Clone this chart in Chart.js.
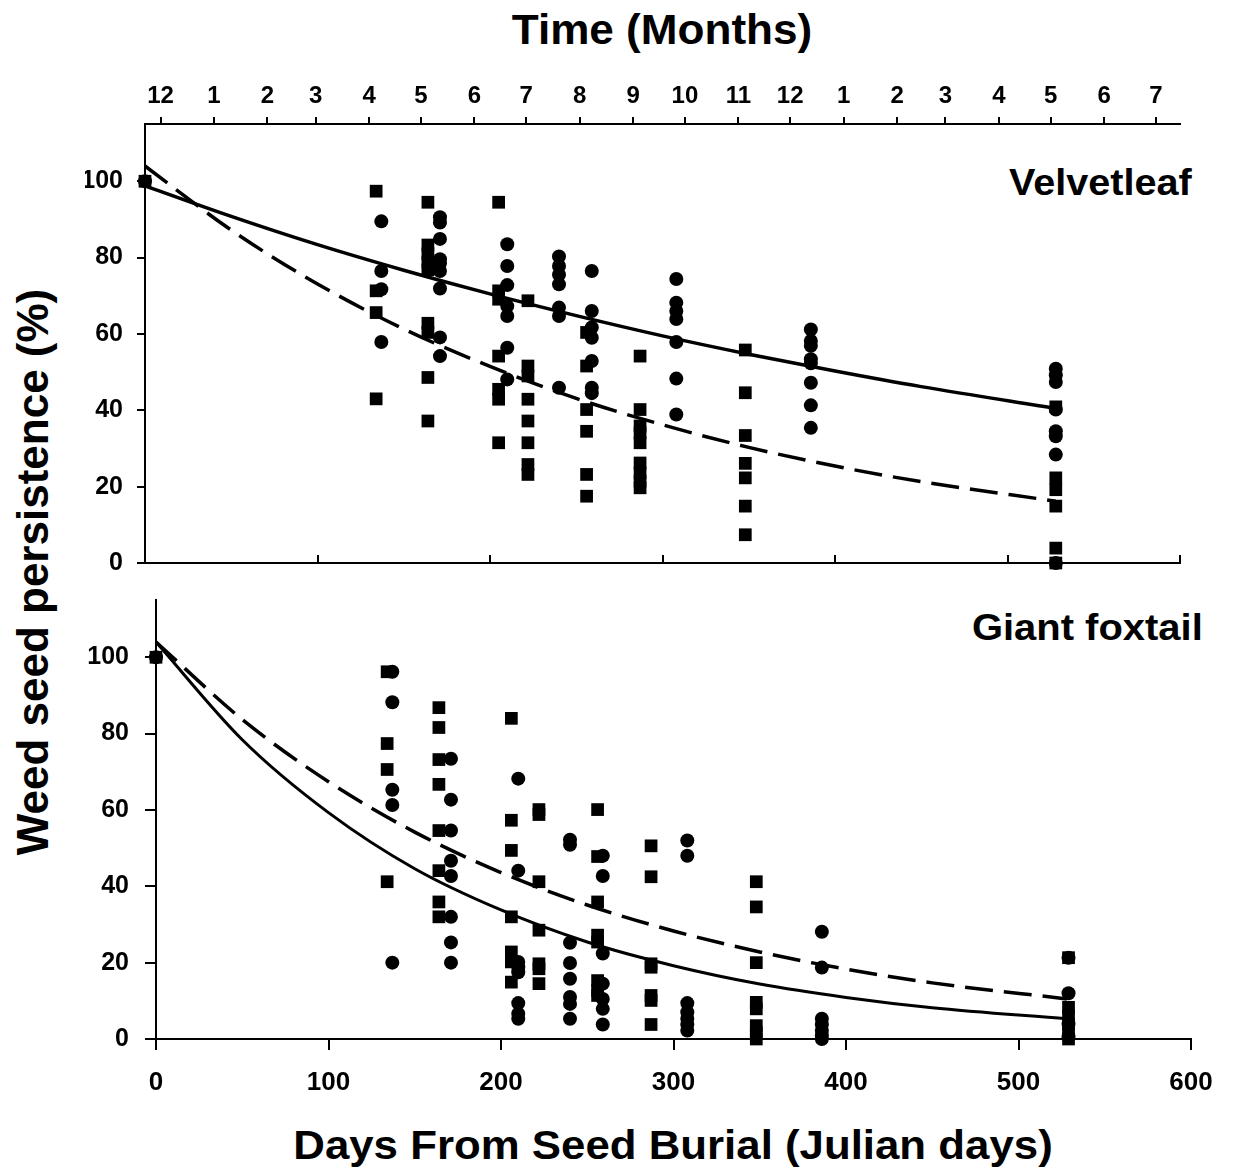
<!DOCTYPE html>
<html>
<head>
<meta charset="utf-8">
<script src="https://cdn.jsdelivr.net/npm/chart.js@4/dist/chart.umd.min.js"></script>
<style>
  body { margin: 0; background: #fff; width: 1234px; height: 1169px; position: relative; overflow: hidden; }
  canvas { position: absolute; left: 0; }
  .txt { position: absolute; font-family: "Liberation Sans", Arial, sans-serif; font-weight: bold; color: #000; line-height: 1; white-space: nowrap; }
</style>
</head>
<body>
<div class="txt" style="left:662px; top:9px; font-size:42px; transform:translateX(-50%) scaleX(1.05);">Time (Months)</div>
<div class="txt" style="left:-317px; top:550px; width:700px; text-align:center; font-size:44px; transform:rotate(-90deg);">Weed seed persistence (%)</div>
<div class="txt" style="right:42px; top:164px; font-size:37px; transform-origin:right; transform:scaleX(1.07);">Velvetleaf</div>
<div class="txt" style="right:31px; top:609px; font-size:37px; transform-origin:right; transform:scaleX(1.08);">Giant foxtail</div>
<div class="txt" style="left:673px; top:1125px; font-size:40px; transform:translateX(-50%) scaleX(1.095);">Days From Seed Burial (Julian days)</div>
<canvas id="top" width="1234" height="600" style="top:0"></canvas>
<canvas id="bottom" width="1234" height="609" style="top:560px"></canvas>
<script>
// Axes
const dayTicks = [0, 100, 200, 300, 400, 500, 600];
const percentTicks = [0, 20, 40, 60, 80, 100];
const monthDays = [9, 40, 71, 99, 130, 160, 191, 221, 252, 283, 313, 344, 374, 405, 436, 464, 495, 525, 556, 586];
const monthLabels = ['12', '1', '2', '3', '4', '5', '6', '7', '8', '9', '10', '11', '12', '1', '2', '3', '4', '5', '6', '7'];

// Velvetleaf - squares
const vlSquareDays = [0, 134, 164, 205, 222, 256, 287, 348, 528];
const vlSquareVals = [
  [100],
  [97.4, 71.3, 65.6, 43.0],
  [94.5, 83.3, 81.0, 78.8, 76.8, 62.8, 60.4, 48.6, 37.2],
  [94.5, 71.3, 69.1, 54.2, 45.5, 42.9, 31.5],
  [68.7, 51.6, 49.0, 42.9, 37.2, 31.5, 25.8, 23.2],
  [60.4, 51.6, 40.2, 34.5, 23.2, 17.5],
  [54.2, 40.2, 35.9, 34.1, 31.5, 26.2, 23.6, 21.4, 19.7],
  [55.8, 44.6, 33.4, 26.1, 22.3, 14.9, 7.4],
  [40.9, 22.3, 19.2, 14.9, 3.9, 0]
];
// Velvetleaf - circles
const vlCircleDays = [0, 137, 171, 210, 240, 259, 308, 386, 528];
const vlCircleVals = [
  [100],
  [89.5, 76.5, 71.7, 57.9],
  [90.6, 89.2, 84.9, 79.6, 78.5, 76.5, 71.9, 59.1, 54.2],
  [83.5, 77.8, 72.8, 67.3, 64.7, 56.4, 48.1],
  [80.3, 77.8, 75.5, 73.0, 66.9, 64.7, 45.9],
  [76.5, 66.0, 61.7, 59.0, 52.9, 45.9, 44.5],
  [74.4, 68.2, 66.0, 63.9, 57.9, 48.3, 38.9],
  [61.2, 58.2, 56.9, 53.4, 52.3, 47.2, 41.3, 35.4],
  [50.9, 49.2, 47.4, 40.2, 34.5, 33.2, 28.4, 0]
];

// Giant foxtail - squares
const gfSquareDays = [0, 134, 164, 206, 222, 256, 287, 348, 529];
const gfSquareVals = [
  [100],
  [96.2, 77.4, 70.6, 41.2],
  [86.8, 81.6, 73.2, 66.7, 54.6, 44.1, 35.9, 32.0],
  [84.0, 57.3, 49.4, 32.0, 22.8, 20.2, 14.9],
  [60.1, 58.8, 41.2, 28.5, 19.7, 18.4, 14.5],
  [60.1, 47.8, 35.9, 27.2, 25.4, 15.3, 12.7, 11.4],
  [50.6, 42.5, 19.7, 18.8, 11.4, 10.1, 3.8],
  [41.2, 34.6, 20.0, 9.6, 7.9, 3.5, 1.7, 0],
  [21.3, 8.3, 6.1, 3.9, 1.7, 0]
];
// Giant foxtail - circles
const gfCircleDays = [0, 137, 171, 210, 240, 259, 308, 386, 529];
const gfCircleVals = [
  [100],
  [96.2, 88.2, 65.3, 61.3, 20.0],
  [73.4, 62.7, 54.6, 46.7, 42.7, 32.0, 25.3, 20.0],
  [68.2, 44.1, 20.2, 18.8, 17.5, 9.4, 6.6, 5.3],
  [52.2, 50.9, 25.2, 19.9, 15.8, 11.0, 9.2, 5.3],
  [48.0, 42.7, 22.4, 14.5, 10.5, 7.9, 3.8],
  [52.0, 48.0, 9.4, 7.0, 5.3, 3.8, 2.2],
  [28.1, 18.7, 5.3, 3.8, 2.2, 0.9, 0],
  [21.3, 12.0, 4.0, 0.5]
];

// Fitted curves
const curveDays = [0, 50, 100, 150, 200, 250, 300, 350, 400, 450, 528];
const vlSolid = [98.8, 90.8, 83.4, 76.7, 70.5, 64.8, 59.5, 54.7, 50.3, 46.2, 40.5];
const vlDashed = [104.0, 87.2, 73.1, 61.3, 51.5, 43.1, 36.2, 30.3, 25.4, 21.3, 16.2];
const gfSolid = [104.0, 78.4, 59.3, 44.6, 33.8, 25.4, 19.2, 14.4, 10.9, 8.2, 5.3];
const gfDashed = [104.0, 83.7, 67.4, 54.2, 43.6, 35.1, 28.3, 22.8, 18.3, 14.7, 10.5];

const FONT = '"Liberation Sans", Arial, sans-serif';

function columns(days, vals) {
    return days.flatMap((d, i) => vals[i].map(v => ({ x: d, y: v })));
}
function curve(vals) {
    return curveDays.map((d, i) => ({ x: d, y: vals[i] }));
}

function markers(data, style) {
    return {
        data: data,
        pointStyle: style,
        pointRadius: style === 'rect' ? 9 : 7,
        pointBackgroundColor: '#000',
        pointBorderWidth: 0,
        showLine: false,
        clip: false
    };
}
function line(data, dashed, width) {
    return {
        data: data,
        showLine: true,
        pointRadius: 0,
        borderColor: '#000',
        borderWidth: width,
        borderDash: dashed ? [28, 11] : [],
        cubicInterpolationMode: 'monotone',
        clip: false
    };
}

function axisStyle(tickLength) {
    return {
        grid: { drawOnChartArea: false, drawTicks: true, tickLength: tickLength, color: '#000', lineWidth: 2 },
        border: { color: '#000', width: 2 }
    };
}

// Panel 1: Velvetleaf
new Chart(document.getElementById('top'), {
    type: 'scatter',
    data: {
        datasets: [
            line(curve(vlSolid), false, 3.5),
            line(curve(vlDashed), true, 3.5),
            markers(columns(vlSquareDays, vlSquareVals), 'rect'),
            markers(columns(vlCircleDays, vlCircleVals), 'circle')
        ]
    },
    options: {
        responsive: false,
        animation: false,
        events: [],
        layout: { padding: { left: 85, right: 54, top: 80, bottom: 27 } },
        plugins: { legend: { display: false }, tooltip: { enabled: false } },
        scales: {
            x: {
                type: 'linear', position: 'bottom', min: 0, max: 600,
                afterBuildTicks: s => { s.ticks = dayTicks.map(v => ({ value: v })); },
                ticks: { display: false },
                ...axisStyle(-8),
                afterFit: s => { s.height = 10; }
            },
            months: {
                type: 'linear', axis: 'x', position: 'top', min: 0, max: 600,
                afterBuildTicks: s => { s.ticks = monthDays.map(v => ({ value: v })); },
                ticks: {
                    autoSkip: false, maxRotation: 0, padding: 6, color: '#000',
                    font: { family: FONT, size: 24, weight: 'bold' },
                    callback: (v, i) => monthLabels[i]
                },
                ...axisStyle(7),
                afterFit: s => { s.height = 44; }
            },
            y: {
                type: 'linear', position: 'left', min: 0, max: 115,
                afterBuildTicks: s => { s.ticks = percentTicks.map(v => ({ value: v })); },
                ticks: { padding: 14, color: '#000', font: { family: FONT, size: 25, weight: 'bold' } },
                ...axisStyle(8),
                afterFit: s => { s.width = 60; }
            }
        }
    }
});

// Panel 2: Giant foxtail
new Chart(document.getElementById('bottom'), {
    type: 'scatter',
    data: {
        datasets: [
            line(curve(gfSolid), false, 3),
            line(curve(gfDashed), true, 3.5),
            markers(columns(gfSquareDays, gfSquareVals), 'rect'),
            markers(columns(gfCircleDays, gfCircleVals), 'circle')
        ]
    },
    options: {
        responsive: false,
        animation: false,
        events: [],
        layout: { padding: { left: 86, right: 43, top: 40, bottom: 70 } },
        plugins: { legend: { display: false }, tooltip: { enabled: false } },
        scales: {
            x: {
                type: 'linear', position: 'bottom', min: 0, max: 600,
                afterBuildTicks: s => { s.ticks = dayTicks.map(v => ({ value: v })); },
                ticks: { padding: 17, maxRotation: 0, color: '#000', font: { family: FONT, size: 26, weight: 'bold' } },
                ...axisStyle(11),
                afterFit: s => { s.height = 60; }
            },
            y: {
                type: 'linear', position: 'left', min: 0, max: 115,
                afterBuildTicks: s => { s.ticks = percentTicks.map(v => ({ value: v })); },
                ticks: { padding: 16, color: '#000', font: { family: FONT, size: 25, weight: 'bold' } },
                ...axisStyle(11),
                afterFit: s => { s.width = 70; }
            }
        }
    }
});
</script>
</body>
</html>
